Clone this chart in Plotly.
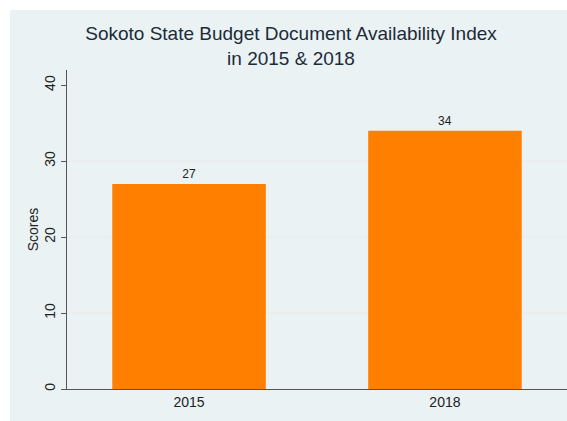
import plotly.graph_objects as go

years = ["2015", "2018"]
scores = [27, 34]
y_ticks = [0, 10, 20, 30, 40]
grid_vals = [10, 20, 30]

W, H = 567, 421
L, R, T, B = 67, 0, 70, 32

fig = go.Figure()
fig.add_trace(go.Bar(
    x=years, y=scores, width=0.6,
    marker=dict(color="#ff8000", line=dict(width=0)),
    text=[str(s) for s in scores], textposition="outside",
    textfont=dict(family="Liberation Sans, Arial, sans-serif", size=12, color="#222222"),
    cliponaxis=False,
))

pw, ph = W - L - R, H - T - B
shapes = [dict(type="rect", xref="paper", yref="paper",
               x0=(10 - L) / pw, x1=1.0, y0=-0.3, y1=(H - B - 10) / ph,
               fillcolor="#eaf2f3", line=dict(width=0), layer="below")]
for g in grid_vals:
    shapes.append(dict(type="line", xref="paper", yref="y", x0=0, x1=1, y0=g, y1=g,
                       line=dict(color="#ececec", width=1.5), layer="below"))

fig.update_layout(
    width=W, height=H,
    margin=dict(l=L, r=R, t=T, b=B, pad=0),
    paper_bgcolor="white", plot_bgcolor="white",
    showlegend=False,
    shapes=shapes,
    font=dict(family="Liberation Sans, Arial, sans-serif", color="#222222"),
    title=dict(text="Sokoto State Budget Document Availability Index<br>in 2015 & 2018",
               x=291 / W, xref="container", xanchor="center",
               y=1 - 40 / H, yref="container", yanchor="top",
               font=dict(size=19, color="#1c2b39")),
    xaxis=dict(range=[-0.477, 1.477], showgrid=False, ticks="", showline=True,
               linecolor="#555555", linewidth=1, tickfont=dict(size=14, color="#222222"),
               zeroline=False),
    yaxis=dict(range=[0, 42], tickvals=y_ticks, ticks="outside", ticklen=5,
               tickcolor="#555555", showline=True, linecolor="#555555", linewidth=1,
               showgrid=False, zeroline=False, tickangle=-90,
               tickfont=dict(size=14, color="#222222"),
               title=dict(text="Scores", font=dict(size=14, color="#222222"), standoff=0)),
)

fig.write_html("out.html")
